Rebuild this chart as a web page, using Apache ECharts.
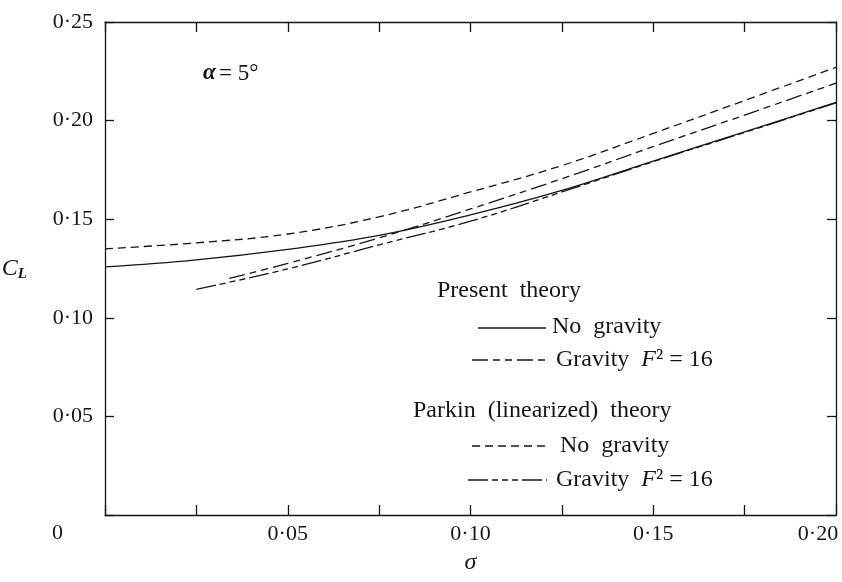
<!DOCTYPE html>
<html>
<head>
<meta charset="utf-8">
<style>
  html, body { margin: 0; padding: 0; background: #fff; }
  #chart-container { width: 842px; height: 582px; }
</style>
<script src="https://cdn.jsdelivr.net/npm/echarts@6/dist/echarts.min.js"></script>
</head>
<body>
<div id="chart-container"></div>
<script>
var dom = document.getElementById('chart-container');
var myChart = echarts.init(dom, null, { renderer: 'canvas' });

// sigma / C_L readings
var sigmaNoGravity = [0, 0.025, 0.05, 0.075, 0.10, 0.125, 0.15, 0.175, 0.20];
var clPresentNoGravity = [0.1258, 0.1294, 0.1347, 0.1418, 0.1522, 0.1646, 0.1795, 0.1943, 0.2093];
var clParkinNoGravity = [0.1350, 0.1380, 0.1425, 0.1512, 0.1638, 0.1772, 0.1935, 0.2102, 0.2270];

var sigmaPresentGravity = [0.034, 0.05, 0.075, 0.10, 0.125, 0.15, 0.175, 0.20];
var clPresentGravity = [0.1200, 0.1276, 0.1405, 0.1552, 0.1705, 0.1868, 0.2028, 0.2190];

var sigmaParkinGravity = [0.025, 0.05, 0.075, 0.10, 0.125, 0.15, 0.175, 0.20];
var clParkinGravity = [0.1144, 0.1248, 0.1370, 0.1490, 0.1638, 0.1792, 0.1940, 0.2090];

var ink = '#151515';
var serif = 'Liberation Serif';

var fmt = function (v) {
  if (Math.abs(v) < 1e-9) return '';
  return v.toFixed(2).replace('.', '\u00b7');
};

var pairs = function (xs, ys) {
  return xs.map(function (x, i) { return [x, ys[i]]; });
};

var lineSeries = function (name, xs, ys, dash) {
  return {
    name: name,
    type: 'line',
    data: pairs(xs, ys),
    smooth: 0.4,
    showSymbol: false,
    silent: true,
    lineStyle: { color: ink, width: 1.3, type: dash }
  };
};

var dashPresentG = [16, 5, 7, 5, 7, 5];
var dashParkinNG = [8, 5];
var dashParkinG = [20, 4, 6, 4, 6, 4, 6, 4];

var xBase = {
  type: 'value', min: 0, max: 0.20, interval: 0.025,
  axisLine: { show: true, onZero: false, lineStyle: { color: ink, width: 1.3 } },
  axisTick: { show: true, inside: true, length: 10, lineStyle: { color: ink, width: 1.3 } },
  splitLine: { show: false }
};
var yBase = {
  type: 'value', min: 0, max: 0.25, interval: 0.05,
  axisLine: { show: true, onZero: false, lineStyle: { color: ink, width: 1.3 } },
  axisTick: { show: true, inside: true, length: 9, lineStyle: { color: ink, width: 1.3 } },
  splitLine: { show: false }
};

var legendText = function (x, y, text) {
  return {
    type: 'text', left: x, top: y - 13, silent: true,
    style: {
      text: text, fill: ink,
      rich: {
        n: { fontFamily: serif, fontSize: 24, fill: ink },
        it: { fontFamily: serif, fontSize: 24, fontStyle: 'italic', fill: ink }
      }
    }
  };
};
var legendLine = function (x1, x2, y, dash) {
  return {
    type: 'line', silent: true,
    shape: { x1: x1, y1: y, x2: x2, y2: y },
    style: { stroke: ink, lineWidth: 1.3, lineDash: dash }
  };
};

var option = {
  backgroundColor: '#fff',
  animation: false,
  grid: { left: 105, right: 6, top: 22, bottom: 67, containLabel: false, outerBoundsMode: 'none' },
  xAxis: [
    Object.assign({}, xBase, {
      position: 'bottom',
      name: '\u03c3',
      nameLocation: 'middle',
      nameGap: 36,
      nameTextStyle: { fontFamily: serif, fontSize: 24, fontStyle: 'italic', color: ink },
      axisLabel: {
        fontFamily: serif, fontSize: 22, color: ink, margin: 8,
        formatter: function (v) {
          var k = Math.round(v / 0.025);
          if (k === 8) return '{last|' + fmt(v) + '}';
          return k % 2 === 0 ? fmt(v) : '';
        },
        rich: {
          last: { fontFamily: serif, fontSize: 22, color: ink, padding: [0, 36, 0, 0] }
        }
      }
    }),
    Object.assign({}, xBase, { position: 'top', axisLabel: { show: false } })
  ],
  yAxis: [
    Object.assign({}, yBase, {
      position: 'left',
      name: '{c|C}{l|L}',
      nameLocation: 'middle',
      nameRotate: 0,
      nameGap: 78,
      nameTextStyle: {
        rich: {
          c: { fontFamily: serif, fontSize: 24, fontStyle: 'italic', color: ink },
          l: { fontFamily: serif, fontSize: 15, fontStyle: 'italic', fontWeight: 'bold', color: ink, padding: [12, 0, 0, 0] }
        }
      },
      axisLabel: {
        fontFamily: serif, fontSize: 22, color: ink, margin: 12,
        formatter: function (v) {
          if (Math.abs(v) < 1e-9) return '{z|0}';
          return fmt(v);
        },
        rich: {
          z: { fontFamily: serif, fontSize: 22, color: ink, padding: [36, 30, 0, 0] }
        }
      }
    }),
    Object.assign({}, yBase, { position: 'right', axisLabel: { show: false } })
  ],
  graphic: [
    {
      type: 'text', left: 203, top: 62, silent: true,
      style: {
        text: '{it|\u03b1} {n|= 5\u00b0}',
        rich: {
          n: { fontFamily: serif, fontSize: 23, fill: ink },
          it: { fontFamily: serif, fontSize: 23, fontStyle: 'italic', fontWeight: 'bold', fill: ink }
        }
      }
    },
    legendText(437, 292, '{n|Present  theory}'),
    legendLine(478, 546, 328, null),
    legendText(552, 328, '{n|No  gravity}'),
    legendLine(472, 548, 360, dashPresentG),
    legendText(556, 361, '{n|Gravity  }{it|F}{n|\u00b2 = 16}'),
    legendText(413, 412, '{n|Parkin  (linearized)  theory}'),
    legendLine(472, 547, 446, dashParkinNG),
    legendText(560, 447, '{n|No  gravity}'),
    legendLine(468, 547, 480, dashParkinG),
    legendText(556, 481, '{n|Gravity  }{it|F}{n|\u00b2 = 16}')
  ],
  series: [
    lineSeries('Present no gravity', sigmaNoGravity, clPresentNoGravity, 'solid'),
    lineSeries('Present gravity F2=16', sigmaPresentGravity, clPresentGravity, dashPresentG),
    lineSeries('Parkin no gravity', sigmaNoGravity, clParkinNoGravity, dashParkinNG),
    lineSeries('Parkin gravity F2=16', sigmaParkinGravity, clParkinGravity, dashParkinG)
  ]
};

myChart.setOption(option);
window.addEventListener('resize', myChart.resize);
</script>
</body>
</html>
